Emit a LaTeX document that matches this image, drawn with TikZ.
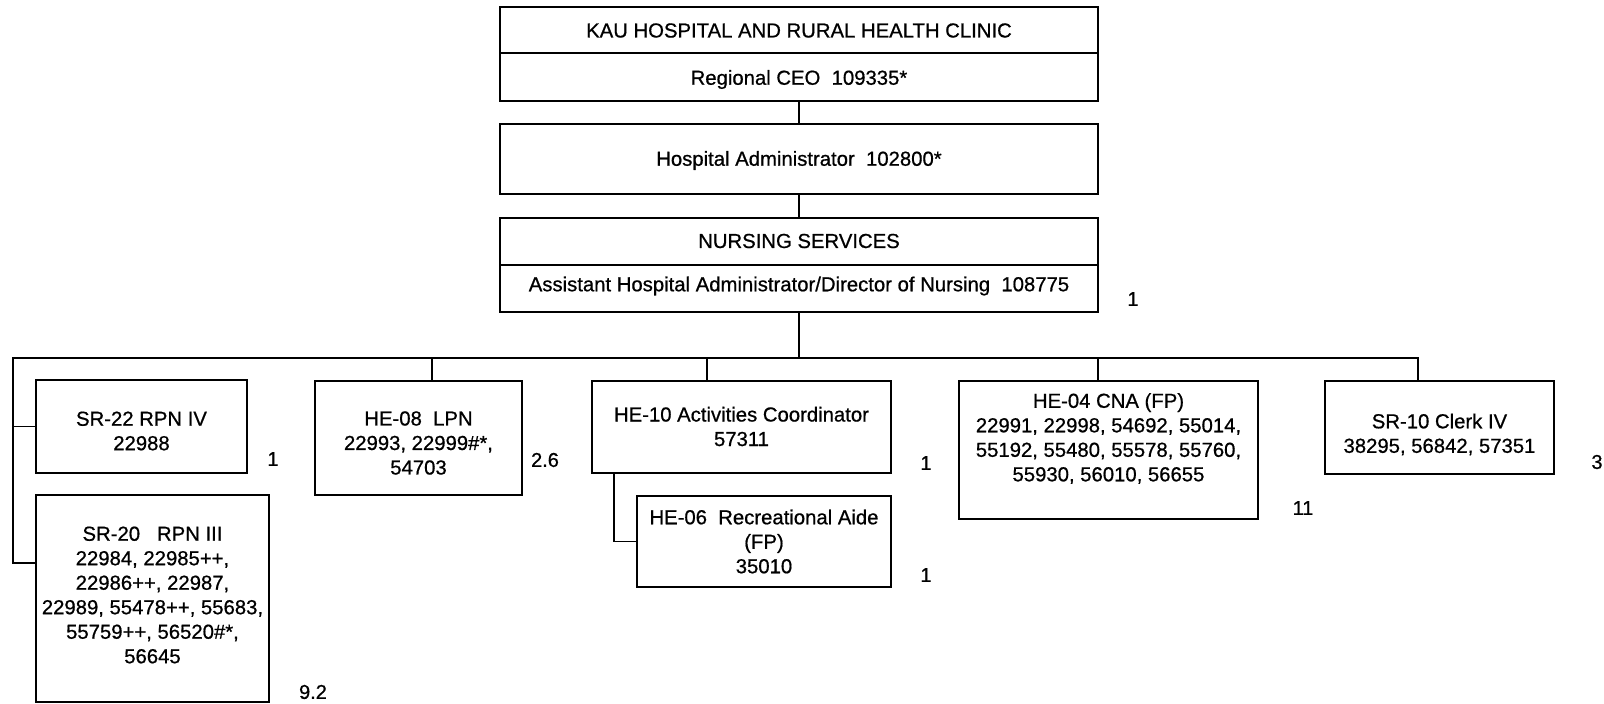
\documentclass[tikz,border=0pt]{standalone}
\usepackage{fontspec}
\setmainfont{Liberation Sans}[FakeBold=0.7]
\begin{document}
\begin{tikzpicture}[x=1pt,y=-1pt,
  box/.style={draw=black, line width=1.7pt, inner sep=0pt, fill=none},
  txt/.style={font=\fontsize{20.3}{24.5}\selectfont, align=center, inner sep=0pt, text=black},
  num/.style={font=\fontsize{20}{24}\selectfont, inner sep=0pt, text=black},
  conn/.style={draw=black, line width=1.7pt}]
\useasboundingbox[fill=white] (0,0) rectangle (1604,704);

% top boxes
\node[box, minimum width=598, minimum height=46] (kau) at (799,30) {};
\node[box, minimum width=598, minimum height=48] (ceo) at (799,77) {};
\node[box, minimum width=598, minimum height=70] (hadm) at (799,159) {};
\node[box, minimum width=598, minimum height=47] (nurs) at (799,241.5) {};
\node[box, minimum width=598, minimum height=47] (asst) at (799,288.5) {};
\node[txt] (kaut) at (799,30.5) {KAU HOSPITAL AND RURAL HEALTH CLINIC};
\node[txt] (ceot) at (799,79.5) {Regional CEO~~109335*};
\node[txt] (hadmt) at (799,160.5) {Hospital Administrator~~102800*};
\node[txt] (nurst) at (799,241) {NURSING SERVICES};
\node[txt] (asstt) at (799,286) {Assistant Hospital Administrator/Director of Nursing~~108775};

% lower boxes
\node[box, minimum width=211, minimum height=93] (sr22) at (141.5,426.5) {};
\node[box, minimum width=233, minimum height=207] (sr20) at (152.5,598.5) {};
\node[box, minimum width=207, minimum height=114] (he08) at (418.5,438) {};
\node[box, minimum width=299, minimum height=92] (act) at (741.5,427) {};
\node[box, minimum width=254, minimum height=91] (rec) at (764,541.5) {};
\node[box, minimum width=299, minimum height=138] (cna) at (1108.5,450) {};
\node[box, minimum width=229, minimum height=93] (clerk) at (1439.5,427.5) {};

\node[txt] (sr22t) at (141.5,431) {SR-22 RPN IV\\22988};
\node[txt] (sr20t) at (152.5,595) {SR-20~~~RPN III\\22984, 22985++,\\22986++, 22987,\\22989, 55478++, 55683,\\55759++, 56520\#*,\\56645};
\node[txt] (he08t) at (418.5,443) {HE-08~~LPN\\22993, 22999\#*,\\54703};
\node[txt] (actt) at (741.5,426.5) {HE-10 Activities Coordinator\\57311};
\node[txt] (rect) at (764,541.5) {HE-06~~Recreational Aide\\(FP)\\35010};
\node[txt] (cnat) at (1108.5,438.5) {HE-04 CNA (FP)\\22991, 22998, 54692, 55014,\\55192, 55480, 55578, 55760,\\55930, 56010, 56655};
\node[txt] (clerkt) at (1439.5,434.5) {SR-10 Clerk IV\\38295, 56842, 57351};

% counts
\node[num] (n1) at (1133,299) {1};
\node[num] (n2) at (273,459) {1};
\node[num] (n3) at (313,692) {9.2};
\node[num] (n4) at (545,460) {2.6};
\node[num] (n5) at (926,463) {1};
\node[num] (n6) at (926,575) {1};
\node[num] (n7) at (1303,508) {11};
\node[num] (n8) at (1597,462) {3};

% connectors
\draw[conn] (ceo.south) -- (hadm.north);
\draw[conn] (hadm.south) -- (nurs.north);
\coordinate (busL) at (13,358);
\coordinate (busR) at (1418,358);
\coordinate (l20) at (13,563);
\coordinate (d08) at (432,358);
\coordinate (dact) at (707,358);
\coordinate (dcna) at (1098,358);
\coordinate (ra) at (614,473);
\draw[conn] (asst.south) -- (asst.south |- busL);
\draw[conn] (l20 -| sr20.west) -- (l20) -- (busL) -- (busR) -- (busR |- clerk.north);
\draw[conn] (busL |- sr22.west) -- (sr22.west);
\draw[conn] (d08) -- (d08 |- he08.north);
\draw[conn] (dact) -- (dact |- act.north);
\draw[conn] (dcna) -- (dcna |- cna.north);
\draw[conn] (ra |- act.south) |- (rec.west);
\end{tikzpicture}
\end{document}
